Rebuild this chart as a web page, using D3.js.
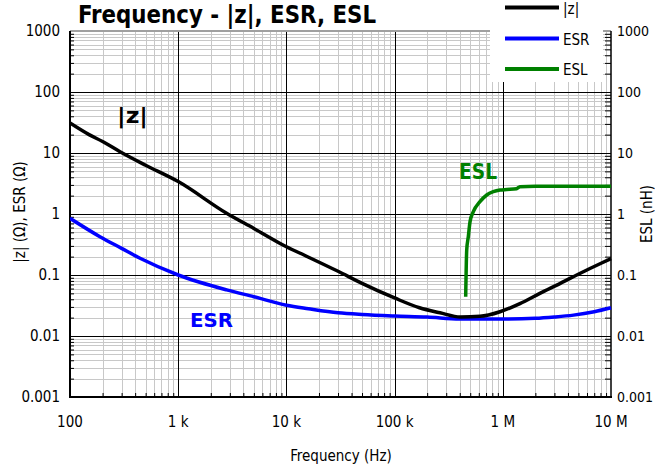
<!DOCTYPE html>
<html><head><meta charset="utf-8">
<script src="https://cdn.jsdelivr.net/npm/d3@7"></script>
<style>
html,body{margin:0;padding:0;background:#fff;}
svg{display:block;}
text{font-family:'DejaVu Sans Condensed','DejaVu Sans',sans-serif;}
</style></head>
<body>
<svg id="chart" width="655" height="469"></svg>
<script>
// ---- data ----
const zFreq = [100,150,200,290,500,1000,2800,5000,10000,15000,30000,50000,100000,170000,263000,406000,615000,942000,1440000,2200000,3400000,5200000,8100000,10000000];
const zVals = [31,20,15.4,10.5,6.3,3.4,1.03,0.58,0.29,0.207,0.115,0.073,0.042,0.029,0.024,0.0205,0.021,0.025,0.034,0.050,0.073,0.107,0.156,0.185];

const esrFreq = [100,189,300,444,1000,2800,5000,10000,16000,30000,50000,100000,200000,400000,1000000,2000000,3000000,4500000,7000000,10000000];
const esrVals = [0.85,0.425,0.273,0.188,0.100,0.057,0.044,0.032,0.028,0.024,0.0225,0.0213,0.0205,0.019,0.019,0.0195,0.0205,0.022,0.025,0.029];

const eslFreq = [454000,464000,480000,498000,534000,615000,710000,817000,942000,1090000,1340000,1440000,2000000,5000000,10000000];
const eslVals = [0.044,0.257,0.425,0.75,1.09,1.59,2.05,2.32,2.47,2.52,2.6,2.8,2.85,2.85,2.85];

const xTickVals = [100,1e3,1e4,1e5,1e6,1e7];
const xTickLabels = ["100","1 k","10 k","100 k","1 M","10 M"];
const yTickVals = [0.001,0.01,0.1,1,10,100,1000];
const yTickLabels = ["0.001","0.01","0.1","1","10","100","1000"];
const legendNames = ["|z|","ESR","ESL"];
const colors = {z:"#000000", esr:"#0000ff", esl:"#008000"};

// ---- scales ----
const svg = d3.select("#chart");
const L=70, R=611, T=31, B=397;
const x = d3.scaleLog().domain([100,1e7]).range([L,R]);
const y = d3.scaleLog().domain([0.001,1000]).range([B,T]);
const y2 = d3.scaleLog().domain([0.001,1000]).range([B,T]);

// minor values
const xMinor=[], yMinor=[];
for (let d=100; d<1e7; d*=10) for (let k=2;k<=9;k++) xMinor.push(d*k);
for (let e=-3; e<3; e++) { const d=Math.pow(10,e); for (let k=2;k<=9;k++) yMinor.push(d*k); }

const g = svg.append("g");
// grid minor
g.selectAll(".vx").data(xMinor).enter().append("line")
  .attr("x1",d=>Math.round(x(d))+0.5).attr("x2",d=>Math.round(x(d))+0.5).attr("y1",T).attr("y2",B)
  .attr("stroke","#c8c8c8").attr("stroke-width",1);
g.selectAll(".hy").data(yMinor).enter().append("line")
  .attr("y1",d=>Math.round(y(d))+0.5).attr("y2",d=>Math.round(y(d))+0.5).attr("x1",L).attr("x2",R)
  .attr("stroke","#c8c8c8").attr("stroke-width",1);
// major grid
g.selectAll(".vmaj").data(xTickVals.slice(1,-1)).enter().append("line")
  .attr("x1",d=>Math.round(x(d))+0.5).attr("x2",d=>Math.round(x(d))+0.5).attr("y1",T).attr("y2",B)
  .attr("stroke","#000").attr("stroke-width",1);
g.selectAll(".hmaj").data(yTickVals.slice(1,-1)).enter().append("line")
  .attr("y1",d=>Math.round(y(d))+0.5).attr("y2",d=>Math.round(y(d))+0.5).attr("x1",L).attr("x2",R)
  .attr("stroke","#000").attr("stroke-width",1);
// top border
g.append("line").attr("x1",L).attr("x2",R).attr("y1",T).attr("y2",T).attr("stroke","#a0a0a0").attr("stroke-width",2);

// axes with inner ticks
const yAxisL = d3.axisRight(y).tickValues(yMinor).tickSize(4).tickFormat("");
const gl = svg.append("g").attr("transform",`translate(${L},0)`).call(yAxisL);
gl.select(".domain").remove();
const yAxisR = d3.axisLeft(y2).tickValues(yMinor).tickSize(6).tickFormat("");
const gr = svg.append("g").attr("transform",`translate(${R},0)`).call(yAxisR);
gr.select(".domain").remove();
const xAxisB = d3.axisTop(x).tickValues(xMinor).tickSize(4).tickFormat("");
const gb = svg.append("g").attr("transform",`translate(0,${B})`).call(xAxisB);
gb.select(".domain").remove();
svg.selectAll(".tick line").attr("stroke","#000");

// frame lines
svg.append("line").attr("x1",L).attr("x2",L).attr("y1",T).attr("y2",B+1).attr("stroke","#000").attr("stroke-width",2);
svg.append("line").attr("x1",L-1).attr("x2",R+1).attr("y1",B).attr("y2",B).attr("stroke","#000").attr("stroke-width",2);
svg.append("line").attr("x1",R).attr("x2",R).attr("y1",T).attr("y2",B+1).attr("stroke","#000").attr("stroke-width",1.5);

// tick labels
svg.selectAll(".yl").data(yTickVals).enter().append("text")
  .attr("x",60).attr("y",d=>y(d)).attr("dy","0.36em").attr("text-anchor","end")
  .attr("font-size",15).text((d,i)=>yTickLabels[i]);
svg.selectAll(".yr").data(yTickVals).enter().append("text")
  .attr("x",617).attr("y",d=>y2(d)).attr("dy","0.36em").attr("text-anchor","start")
  .attr("font-size",14).text((d,i)=>yTickLabels[i]);
svg.selectAll(".xl").data(xTickVals).enter().append("text")
  .attr("x",d=>x(d)).attr("y",427).attr("text-anchor","middle")
  .attr("font-size",15).text((d,i)=>xTickLabels[i]);

// axis titles
svg.append("text").attr("x",341).attr("y",461).attr("text-anchor","middle").attr("font-size",15).text("Frequency (Hz)");
svg.append("text").attr("transform","translate(25,212) rotate(-90)").attr("text-anchor","middle").attr("font-size",15).text("|z| (Ω), ESR (Ω)");
svg.append("text").attr("transform","translate(652,214) rotate(-90)").attr("text-anchor","middle").attr("font-size",15).text("ESL (nH)");

// curves
const clip = svg.append("clipPath").attr("id","pc").append("rect").attr("x",L).attr("y",T-5).attr("width",R-L+1).attr("height",B-T+5);
function drawSeries(fr, vals, sc, col){
  const pts = fr.map((f,i)=>[x(f), sc(vals[i])]);
  svg.append("path").attr("d", d3.line().curve(d3.curveMonotoneX)(pts))
    .attr("fill","none").attr("stroke",col).attr("stroke-width",3.5).attr("stroke-linejoin","round")
    .attr("clip-path","url(#pc)");
}
drawSeries(esrFreq, esrVals, y, colors.esr);
drawSeries(zFreq, zVals, y, colors.z);
drawSeries(eslFreq, eslVals, y2, colors.esl);

// in-plot labels
svg.append("text").attr("x",117).attr("y",123).attr("font-size",21).attr("font-weight","bold").attr("fill",colors.z)
  .attr("textLength",31).attr("lengthAdjust","spacingAndGlyphs").text("|z|");
svg.append("text").attr("x",190).attr("y",327).attr("font-size",20).attr("font-weight","bold").attr("fill",colors.esr)
  .attr("textLength",43).attr("lengthAdjust","spacingAndGlyphs").text("ESR");
svg.append("text").attr("x",459).attr("y",179).attr("font-size",21).attr("font-weight","bold").attr("fill",colors.esl)
  .attr("textLength",38).attr("lengthAdjust","spacingAndGlyphs").text("ESL");

// legend
svg.append("rect").attr("x",490).attr("y",0).attr("width",113).attr("height",82).attr("fill","#fff");
const legY=[7.5,38.5,69], legC=[colors.z,colors.esr,colors.esl];
legendNames.forEach((n,i)=>{
  svg.append("line").attr("x1",505).attr("x2",559).attr("y1",legY[i]).attr("y2",legY[i]).attr("stroke",legC[i]).attr("stroke-width",4);
  svg.append("text").attr("x",563).attr("y",legY[i]+6).attr("font-size",15).text(n);
});

// title
svg.append("text").attr("x",78).attr("y",23).attr("font-size",25).attr("font-weight","bold")
  .attr("textLength",298).attr("lengthAdjust","spacingAndGlyphs").text("Frequency - |z|, ESR, ESL");
</script>
</body></html>
